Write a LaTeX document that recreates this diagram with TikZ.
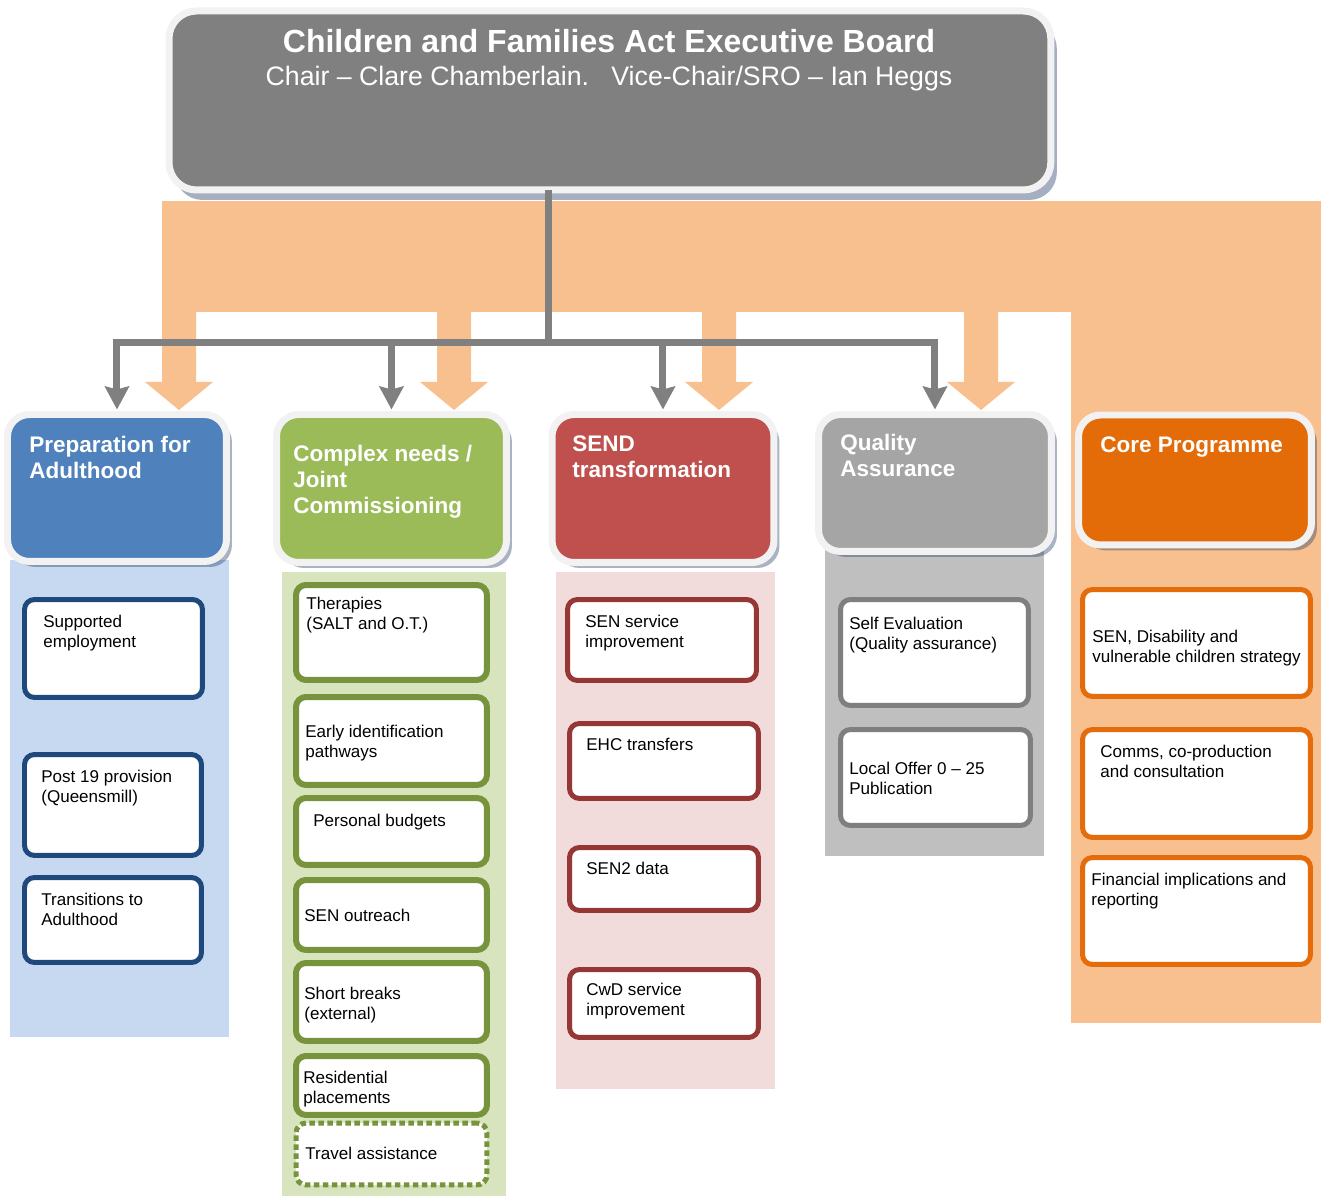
\documentclass[tikz,border=0pt]{standalone}
\usepackage{fontspec}
\setmainfont{Liberation Sans}
\usepackage{tikz}
\usetikzlibrary{arrows.meta,shadows}

\definecolor{boardgray}{HTML}{808080}
\definecolor{ringgray}{HTML}{F2F2F2}
\definecolor{bandorange}{HTML}{F9C08F}
\definecolor{linegray}{HTML}{808080}
\definecolor{shadowblue}{HTML}{1F3864}
\definecolor{catblue}{HTML}{4F81BD}
\definecolor{catgreen}{HTML}{9BBB59}
\definecolor{catred}{HTML}{C0504D}
\definecolor{catgray}{HTML}{A5A5A5}
\definecolor{catorange}{HTML}{E36C09}
\definecolor{colblue}{HTML}{C6D9F1}
\definecolor{colgreen}{HTML}{D7E4BD}
\definecolor{colred}{HTML}{F2DCDB}
\definecolor{colgray}{HTML}{BFBFBF}
\definecolor{edgeblue}{HTML}{1F497D}
\definecolor{edgegreen}{HTML}{77933C}
\definecolor{edgered}{HTML}{953735}
\definecolor{edgegray}{HTML}{7F7F7F}
\definecolor{edgeorange}{HTML}{E46C0A}

\tikzset{
  boardbox/.style={anchor=north west, inner sep=0, outer sep=0, fill=boardgray, draw=ringgray,
    line width=0.14cm, rounded corners=0.55cm,
    drop shadow={shadow xshift=0.12cm, shadow yshift=-0.2cm, fill=shadowblue, opacity=0.4}},
  catbox/.style={anchor=north west, inner sep=0, outer sep=0, draw=ringgray, line width=0.14cm,
    rounded corners=0.44cm,
    drop shadow={shadow xshift=0.11cm, shadow yshift=-0.11cm, fill=shadowblue, opacity=0.38}},
  cattext/.style={anchor=north west, inner sep=0, align=left, text=white,
    font=\bfseries\fontsize{12.8}{14.8}\selectfont},
  subbox/.style={anchor=north west, inner sep=0, outer sep=0, fill=white, line width=0.1cm,
    rounded corners=0.2cm},
  subtext/.style={anchor=north west, inner sep=0, align=left, font=\fontsize{9.7}{11.3}\selectfont},
  treeline/.style={draw=linegray, line width=0.14cm},
  treearrow/.style={treeline, shorten >=0.1cm,
    -{Stealth[width=0.48cm, length=0.46cm, inset=0.06cm]}},
}

\begin{document}
\begin{tikzpicture}[x=0.02cm, y=-0.02cm]
\useasboundingbox (0,0) rectangle (1323,1196);

\fill[bandorange] (162,201) rectangle (1321,312);
\fill[bandorange] (1071,311) rectangle (1321,1023);
\foreach \sx in {162,437,702,964}
  \fill[bandorange] (\sx,311) -- (\sx,382) -- (\sx-17,382) -- (\sx+17,410)
    -- (\sx+51,382) -- (\sx+34,382) -- (\sx+34,311) -- cycle;

\fill[colblue] (10,560) rectangle (229,1037);
\fill[colgreen] (282,572) rectangle (506,1196);
\fill[colred] (556,572) rectangle (775,1089);
\fill[colgray] (825,548) rectangle (1044,856);

\node[boardbox, minimum width=17.64cm, minimum height=3.58cm] (board) at (169,11) {};
\node[anchor=base, text=white, font=\bfseries\fontsize{18.2}{21}\selectfont] (title) at (609,53)
  {Children and Families Act Executive Board};
\node[anchor=base, text=white, font=\fontsize{15.2}{18}\selectfont] (chair) at (609,86)
  {Chair – Clare Chamberlain.\ \ \ Vice-Chair/SRO – Ian Heggs};

\node[catbox, fill=catblue, minimum width=4.38cm, minimum height=2.94cm] (prep) at (7.5,414.5) {};
\node[catbox, fill=catgreen, minimum width=4.6cm, minimum height=2.96cm] (complex) at (276.5,414.5) {};
\node[catbox, fill=catred, minimum width=4.44cm, minimum height=2.96cm] (send) at (552,414.5) {};
\node[catbox, fill=catgray, minimum width=4.66cm, minimum height=2.74cm] (quality) at (818.5,414.5) {};
\node[catbox, fill=catorange, minimum width=4.66cm, minimum height=2.6cm] (core) at (1078.5,415) {};

\node[cattext] (prepT) at (29,436) {Preparation for\\Adulthood};
\node[cattext] (complexT) at (293,445) {Complex needs /\\Joint\\Commissioning};
\node[cattext] (sendT) at (572,435) {SEND\\transformation};
\node[cattext] (qualityT) at (840,434) {Quality\\Assurance};
\node[cattext] (coreT) at (1100,436) {Core Programme};

\node[subbox, draw=edgeblue, minimum width=3.56cm, minimum height=1.96cm] (supp) at (24.5,599.5) {};
\node[subbox, draw=edgeblue, minimum width=3.54cm, minimum height=2.02cm] (post) at (24.5,754.5) {};
\node[subbox, draw=edgeblue, minimum width=3.54cm, minimum height=1.7cm] (trans) at (24.5,877.5) {};
\node[subtext] (suppT) at (43,615) {Supported\\employment};
\node[subtext] (postT) at (41,770) {Post 19 provision\\(Queensmill)};
\node[subtext] (transT) at (41,893) {Transitions to\\Adulthood};

\node[subbox, draw=edgegreen, line width=0.12cm, minimum width=3.82cm, minimum height=1.9cm] (ther) at (296,585) {};
\node[subbox, draw=edgegreen, line width=0.12cm, minimum width=3.82cm, minimum height=1.76cm] (early) at (296,697) {};
\node[subbox, draw=edgegreen, line width=0.12cm, minimum width=3.82cm, minimum height=1.34cm] (pers) at (296,798) {};
\node[subbox, draw=edgegreen, line width=0.12cm, minimum width=3.82cm, minimum height=1.4cm] (outr) at (296,880) {};
\node[subbox, draw=edgegreen, line width=0.12cm, minimum width=3.82cm, minimum height=1.56cm] (short) at (296,963) {};
\node[subbox, draw=edgegreen, line width=0.12cm, minimum width=3.82cm, minimum height=1.18cm] (resi) at (296,1056) {};
\node[subbox, draw=edgegreen, line width=0.1cm, dash pattern=on 0.11cm off 0.07cm,
  minimum width=3.82cm, minimum height=1.24cm] (travel) at (296,1123) {};
\node[subtext] (therT) at (306,597) {Therapies\\(SALT and O.T.)};
\node[subtext] (earlyT) at (305,725) {Early identification\\pathways};
\node[subtext] (persT) at (313,814) {Personal budgets};
\node[subtext] (outrT) at (304,909) {SEN outreach};
\node[subtext] (shortT) at (304,987) {Short breaks\\(external)};
\node[subtext] (resiT) at (303,1071) {Residential\\placements};
\node[subtext] (travelT) at (305,1147) {Travel assistance};

\node[subbox, draw=edgered, minimum width=3.78cm, minimum height=1.62cm] (senimp) at (567.5,599.5) {};
\node[subbox, draw=edgered, minimum width=3.78cm, minimum height=1.5cm] (ehc) at (569.5,723.5) {};
\node[subbox, draw=edgered, minimum width=3.78cm, minimum height=1.26cm] (sen2) at (569.5,847.5) {};
\node[subbox, draw=edgered, minimum width=3.78cm, minimum height=1.36cm] (cwd) at (569.5,969.5) {};
\node[subtext] (senimpT) at (585,615) {SEN service\\improvement};
\node[subtext] (ehcT) at (586,738) {EHC transfers};
\node[subtext] (sen2T) at (586,862) {SEN2 data};
\node[subtext] (cwdT) at (586,983) {CwD service\\improvement};

\node[subbox, draw=edgegray, minimum width=3.76cm, minimum height=2.12cm] (selfev) at (840.5,599.5) {};
\node[subbox, draw=edgegray, minimum width=3.8cm, minimum height=1.92cm] (local) at (840.5,729.5) {};
\node[subtext] (selfevT) at (849,617) {Self Evaluation\\(Quality assurance)};
\node[subtext] (localT) at (849,762) {Local Offer 0 – 25\\Publication};

\node[subbox, draw=edgeorange, minimum width=4.56cm, minimum height=2.14cm] (strat) at (1082.5,589.5) {};
\node[subbox, draw=edgeorange, minimum width=4.56cm, minimum height=2.16cm] (comms) at (1082.5,729.5) {};
\node[subbox, draw=edgeorange, minimum width=4.56cm, minimum height=2.14cm] (fin) at (1082.5,857.5) {};
\node[subtext] (stratT) at (1092,630) {SEN, Disability and\\vulnerable children strategy};
\node[subtext] (commsT) at (1100,745) {Comms, co-production\\and consultation};
\node[subtext] (finT) at (1091,873) {Financial implications and\\reporting};

\coordinate (hub) at (548,343);
\draw[treeline] (hub |- board.south) -- (hub);
\draw[treearrow] (hub) -| (prep.north);
\draw[treearrow] (hub) -| (complex.north);
\draw[treearrow] (hub) -| (send.north);
\draw[treearrow] (hub) -| (quality.north);
\end{tikzpicture}
\end{document}
